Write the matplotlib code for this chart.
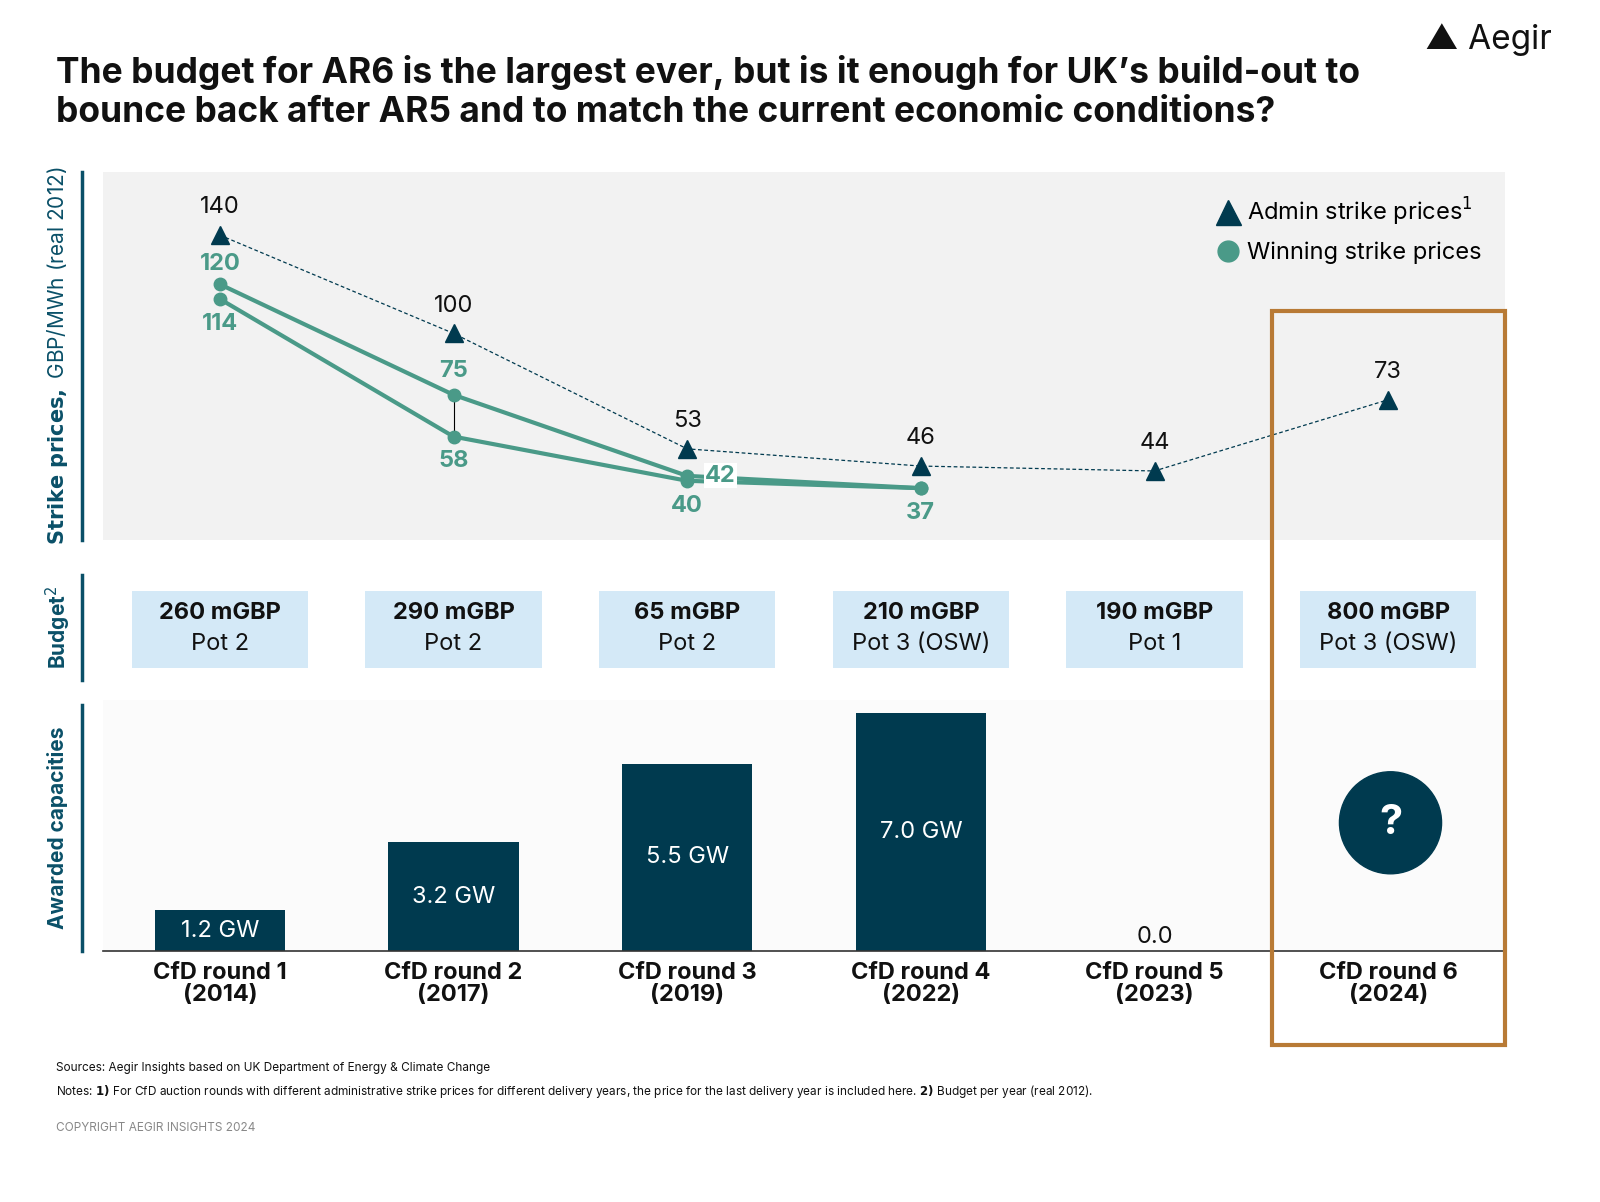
import matplotlib
matplotlib.use("Agg")
import matplotlib.pyplot as plt
from matplotlib.patches import Rectangle, Ellipse

rounds = ["CfD round 1\n(2014)", "CfD round 2\n(2017)", "CfD round 3\n(2019)",
          "CfD round 4\n(2022)", "CfD round 5\n(2023)", "CfD round 6\n(2024)"]
admin = [140, 100, 53, 46, 44, 73]
win_high = [120, 75, 42, 37]
win_low = [114, 58, 40, 37]
budget_val = ["260 mGBP", "290 mGBP", "65 mGBP", "210 mGBP", "190 mGBP", "800 mGBP"]
budget_pot = ["Pot 2", "Pot 2", "Pot 2", "Pot 3 (OSW)", "Pot 1", "Pot 3 (OSW)"]
capacity = [1.2, 3.2, 5.5, 7.0, 0.0]

W, H = 1600, 1202
NAVY = "#003a4f"
TEAL = "#4a9a88"
BOXC = "#d4e9f7"
ORANGE = "#b87a35"
plt.rcParams['font.family'] = ['Inter', 'DejaVu Sans']

fig = plt.figure(figsize=(16, 12.02), dpi=100)

def ax_px(x0, y0, x1, y1):
    return fig.add_axes([x0 / W, 1 - y1 / H, (x1 - x0) / W, (y1 - y0) / H])

x = list(range(6))
# Top panel
ax1 = ax_px(103, 172, 1505, 540)
ax1.set_facecolor("#f2f2f2")
ax1.set_xlim(-0.5, 5.5)
ax1.set_ylim(15.9, 165.7)
for s in ax1.spines.values():
    s.set_visible(False)
ax1.set_xticks([]); ax1.set_yticks([])
ax1.plot(x, admin, ls=(0, (3, 2)), color=NAVY, lw=0.9, zorder=2)
ax1.plot(x, admin, ls="none", marker="^", ms=13, color=NAVY, zorder=4)
xw = list(range(4))
ax1.plot(xw, win_high, color=TEAL, lw=3, marker="o", ms=9, zorder=3)
ax1.plot(xw, win_low, color=TEAL, lw=3, marker="o", ms=9, zorder=3)
ax1.plot([1, 1], [win_low[1], win_high[1]], color="black", lw=0.8, zorder=2)
for i, v in enumerate(admin):
    ax1.annotate(str(v), (i, v), xytext=(0, 12), textcoords="offset points",
                 ha="center", va="bottom", fontsize=17, color="#111")
hi_off = [(0, 7), (0, 9), (24, 0), None]
lo_off = [(0, -10), (0, -10), (0, -10), (0, -10)]
for i in range(4):
    if hi_off[i] is not None:
        va = "center" if i == 2 else "bottom"
        ax1.annotate(str(win_high[i]), (i, win_high[i]), xytext=hi_off[i], textcoords="offset points",
                     ha="center", va=va, fontsize=17, color=TEAL, fontweight="bold",
                     bbox=dict(fc="white", ec="none", pad=1) if i == 2 else None)
    ax1.annotate(str(win_low[i]), (i, win_low[i]), xytext=lo_off[i], textcoords="offset points",
                 ha="center", va="top", fontsize=17, color=TEAL, fontweight="bold")
ax1.plot([], [], ls="none", marker="^", ms=18, color=NAVY, label="Admin strike prices$^1$")
ax1.plot([], [], ls="none", marker="o", ms=15, color=TEAL, label="Winning strike prices")
ax1.legend(loc="upper right", frameon=False, fontsize=17, handletextpad=0.2,
           borderaxespad=0.6, labelspacing=0.6, handlelength=1.2)

# Budget panel
ax2 = ax_px(103, 575, 1505, 680)
ax2.set_xlim(-0.5, 5.5); ax2.set_ylim(0, 1)
ax2.axis("off")
for i in range(6):
    ax2.add_patch(Rectangle((i - 0.377, 0.11), 0.754, 0.74, fc=BOXC, ec="none"))
    ax2.text(i, 0.64, budget_val[i], ha="center", va="center", fontsize=17, fontweight="bold", color="#111")
    ax2.text(i, 0.34, budget_pot[i], ha="center", va="center", fontsize=17, color="#111")

# Bar panel
ax3 = ax_px(103, 700, 1505, 951)
ax3.set_facecolor("#fbfbfb")
ax3.set_xlim(-0.5, 5.5); ax3.set_ylim(0, 7.38)
for k in ["top", "right", "left"]:
    ax3.spines[k].set_visible(False)
ax3.spines["bottom"].set_color("#333")
ax3.spines["bottom"].set_linewidth(1.2)
ax3.set_yticks([])
ax3.bar(range(5), capacity, width=0.557, color=NAVY)
for i, v in enumerate(capacity):
    if v > 0:
        ax3.text(i, v / 2, f"{v:.1f} GW", ha="center", va="center", color="white", fontsize=17)
    else:
        ax3.text(i, 0.1, f"{v:.1f}", ha="center", va="bottom", fontsize=17, color="#111")
ax3.set_xticks(x)
ax3.set_xticklabels(rounds, fontsize=17, fontweight="bold", color="#111", linespacing=1.0)
ax3.tick_params(axis="x", length=0, pad=8)
ax3.add_patch(Ellipse((5.01, 3.77), 102 / 233.4, 102 / 34.0, color=NAVY, zorder=5))
ax3.text(5.01, 3.77, "?", ha="center", va="center", color="white", fontsize=30, fontweight="bold", zorder=6)

# Left rules and labels
for (y0, y1) in [(172, 540), (575, 680), (705, 951)]:
    fig.add_artist(plt.Line2D([82 / W, 82 / W], [1 - y0 / H, 1 - y1 / H], color="#0a5068", lw=2.5))
fig.text(58 / W, 1 - 356 / H, r"$\bf{Strike\ prices,}$ GBP/MWh (real 2012)", rotation=90,
         ha="center", va="center", fontsize=15, color="#0a5068")
fig.text(58 / W, 1 - 627 / H, "Budget$^2$", rotation=90, ha="center", va="center",
         fontsize=15, fontweight="bold", color="#0a5068")
fig.text(58 / W, 1 - 828 / H, "Awarded capacities", rotation=90, ha="center", va="center",
         fontsize=15, fontweight="bold", color="#0a5068")

# Orange highlight box
fig.add_artist(Rectangle((1272 / W, 1 - 1045 / H), (1505 - 1272) / W, (1045 - 311) / H,
                         transform=fig.transFigure, fill=False, ec=ORANGE, lw=3))

# Title & logo
fig.text(56 / W, 1 - 92 / H,
         "The budget for AR6 is the largest ever, but is it enough for UK\u2019s build-out to\n"
         "bounce back after AR5 and to match the current economic conditions?",
         ha="left", va="center", fontsize=25.5, fontweight="bold", color="#111", linespacing=1.2)
fig.text(1425 / W, 1 - 40 / H, "\u25B2 Aegir", ha="left", va="center", fontsize=24, color="#111")

fig.text(56 / W, 1 - 1068 / H, "Sources: Aegir Insights based on UK Department of Energy & Climate Change",
         fontsize=8.5, color="#111", va="center")
fig.text(56 / W, 1 - 1091 / H,
         r"Notes: $\bf{1)}$ For CfD auction rounds with different administrative strike prices for different delivery years, the price for the last delivery year is included here. $\bf{2)}$ Budget per year (real 2012).",
         fontsize=8.5, color="#111", va="center")
fig.text(56 / W, 1 - 1128 / H, "COPYRIGHT AEGIR INSIGHTS 2024", fontsize=8.5, color="#888", va="center")

fig.savefig("out.png", dpi=100, facecolor="white")
